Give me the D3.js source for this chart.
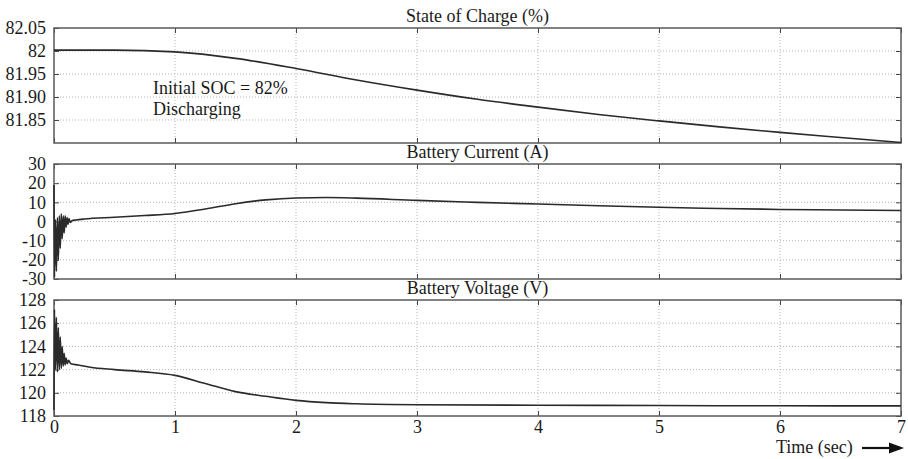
<!DOCTYPE html>
<html><head><meta charset="utf-8">
<script src="https://cdn.jsdelivr.net/npm/d3@7"></script>
<style>
body{margin:0;background:#fff;}
text{font-family:"Liberation Serif","Times New Roman",serif;fill:#1a1a1a;}
</style></head><body>
<svg id="c" width="908" height="459"></svg>
<script>
// ---- data ----
const xTicks = [0,1,2,3,4,5,6,7];
const socTime = [0,0.5,1,1.5,2,2.5,3,3.5,4,4.5,5,5.5,6,6.5,7];
const socVals = [82.002,82.002,81.998,81.984,81.962,81.937,81.915,81.895,81.878,81.862,81.848,81.835,81.823,81.812,81.801];
const socTicks = [81.85,81.90,81.95,82,82.05];
const socTickLabels = ["81.85","81.90","81.95","82","82.05"];

const curTime = [0,0.004,0.012,0.02,0.028,0.036,0.044,0.052,0.06,0.068,0.076,0.084,0.092,0.1,0.108,0.116,0.124,0.135,0.15,0.18,0.25,0.5,0.75,1.0,1.25,1.5,1.75,2.0,2.25,2.5,3.0,3.5,4.0,4.5,5.0,5.5,6.0,6.5,7.0];
const curVals = [19,-29,1,-26,2,-20,3,-14,4,-9,3,-6,3,-3,2,-1.5,1.5,-0.5,0.5,0.8,1.3,2.2,3.1,4.2,6.5,9.3,11.3,12.3,12.5,12.2,11.0,10.0,9.1,8.2,7.4,6.8,6.3,6.0,5.7];
const curTicks = [-30,-20,-10,0,10,20,30];

const volTime = [0,0.004,0.012,0.02,0.028,0.036,0.044,0.052,0.06,0.068,0.076,0.084,0.092,0.1,0.11,0.12,0.14,0.2,0.3,0.5,0.75,1.0,1.25,1.5,1.75,2.0,2.25,2.5,3.0,4.0,5.0,6.0,7.0];
const volVals = [118.5,127.2,122.0,126.5,121.8,125.6,122.0,124.8,122.1,124.0,122.3,123.4,122.4,123.0,122.5,122.8,122.5,122.4,122.2,122.0,121.8,121.5,120.8,120.1,119.7,119.35,119.15,119.05,118.97,118.93,118.9,118.88,118.87];
const volTicks = [118,120,122,124,126,128];

const titles = ["State of Charge (%)","Battery Current (A)","Battery Voltage (V)"];

// ---- drawing ----
const svg = d3.select("#c");
const x = d3.scaleLinear().domain([0,7]).range([54,901]);
const FS = "18px";

const panels = [
  {top:28,bottom:143,domain:[81.80,82.05],ticks:socTicks,labels:socTickLabels,t:socTime,v:socVals,title:titles[0]},
  {top:164,bottom:279,domain:[-30,30],ticks:curTicks,labels:curTicks.map(String),t:curTime,v:curVals,title:titles[1]},
  {top:300,bottom:416,domain:[118,128],ticks:volTicks,labels:volTicks.map(String),t:volTime,v:volVals,title:titles[2]}
];

panels.forEach((p,i)=>{
  const y = d3.scaleLinear().domain(p.domain).range([p.bottom,p.top]);
  const g = svg.append("g");
  // grid
  g.selectAll(".hg").data(p.ticks.filter(d=>d!==p.domain[0]&&d!==p.domain[1])).join("line")
    .attr("x1",x(0)).attr("x2",x(7)).attr("y1",d=>y(d)).attr("y2",d=>y(d))
    .attr("stroke","#b5b5b5").attr("stroke-width",1).attr("stroke-dasharray","1,2");
  g.selectAll(".vg").data(xTicks.slice(1,-1)).join("line")
    .attr("x1",d=>x(d)).attr("x2",d=>x(d)).attr("y1",p.top).attr("y2",p.bottom)
    .attr("stroke","#b5b5b5").attr("stroke-width",1).attr("stroke-dasharray","1,2");
  // axes (ticks inward)
  const yl = d3.axisLeft(y).tickValues(p.ticks).tickFormat((d,k)=>p.labels[k]).tickSizeInner(-5).tickSizeOuter(0).tickPadding(8);
  const ga = g.append("g").attr("transform",`translate(${x(0)},0)`).call(yl);
  ga.attr("font-family",null);
  ga.select(".domain").remove();
  ga.selectAll("line").attr("stroke","#444");
  ga.selectAll("text").attr("font-size",FS).attr("fill","#1a1a1a");
  const yr = d3.axisRight(y).tickValues(p.ticks).tickSizeInner(-5).tickSizeOuter(0).tickFormat("");
  const gr = g.append("g").attr("transform",`translate(${x(7)},0)`).call(yr);
  gr.select(".domain").remove(); gr.selectAll("line").attr("stroke","#444");
  const xt = d3.axisTop(x).tickValues(xTicks).tickSizeInner(-5).tickSizeOuter(0).tickFormat("");
  const gt = g.append("g").attr("transform",`translate(0,${p.top})`).call(xt);
  gt.select(".domain").remove(); gt.selectAll("line").attr("stroke","#444");
  const xb = d3.axisBottom(x).tickValues(xTicks).tickSizeInner(-5).tickSizeOuter(0).tickPadding(4)
    .tickFormat(i===2? d3.format("d") : "");
  const gb = g.append("g").attr("transform",`translate(0,${p.bottom})`).call(xb);
  gb.attr("font-family",null);
  gb.select(".domain").remove(); gb.selectAll("line").attr("stroke","#444");
  gb.selectAll("text").attr("font-size",FS).attr("fill","#1a1a1a");
  // frame
  g.append("rect").attr("x",x(0)).attr("y",p.top).attr("width",x(7)-x(0)).attr("height",p.bottom-p.top)
    .attr("fill","none").attr("stroke","#5a5a5a").attr("stroke-width",1.5);
  // line
  const line = d3.line().x((d,k)=>x(p.t[k])).y(d=>y(d)).curve(d3.curveMonotoneX);
  g.append("path").datum(p.v).attr("d",line).attr("fill","none").attr("stroke","#2a2a2a").attr("stroke-width",1.6);
  // title
  g.append("text").attr("x",(x(0)+x(7))/2).attr("y",p.top-6).attr("text-anchor","middle")
    .attr("font-size",FS).text(p.title);
});

// annotations
svg.append("text").attr("x",153).attr("y",94).attr("font-size",FS).text("Initial SOC = 82%");
svg.append("text").attr("x",153).attr("y",115).attr("font-size",FS).text("Discharging");
svg.append("text").attr("x",776).attr("y",453).attr("font-size",FS).text("Time (sec)");
// arrow
svg.append("line").attr("x1",862).attr("x2",892).attr("y1",448).attr("y2",448).attr("stroke","#111").attr("stroke-width",2.2);
svg.append("path").attr("d","M889,442.5 L904,448 L889,453.5 Z").attr("fill","#111");
</script>
</body></html>
